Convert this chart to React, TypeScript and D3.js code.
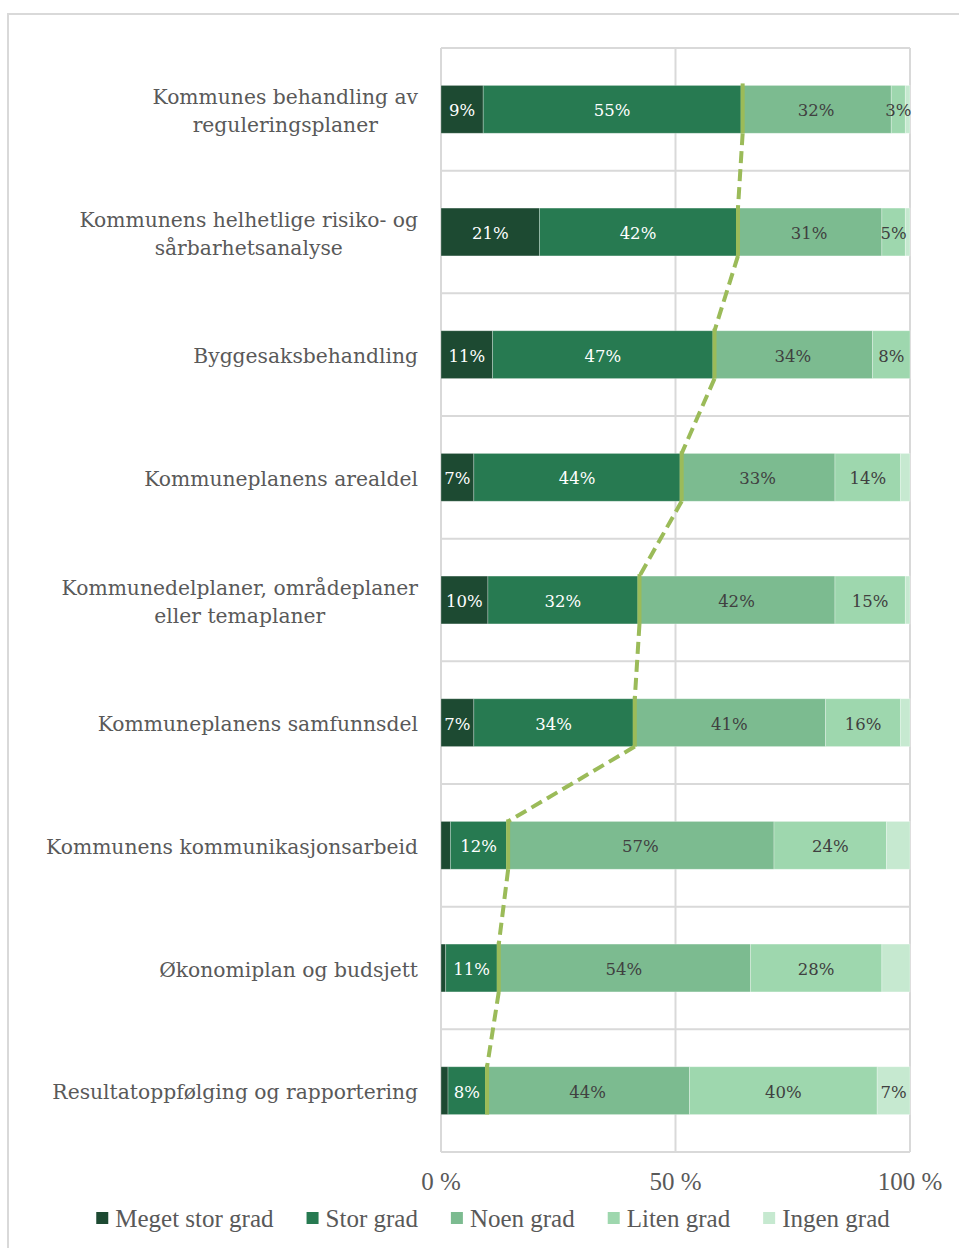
import { useMemo } from "react";
import * as d3 from "d3";

const W = 959;
const H = 1248;

// categories (one entry per line of the label)
const categories = [
  ["Kommunes behandling av", "reguleringsplaner"],
  ["Kommunens helhetlige risiko- og", "sårbarhetsanalyse"],
  ["Byggesaksbehandling"],
  ["Kommuneplanens arealdel"],
  ["Kommunedelplaner, områdeplaner", "eller temaplaner"],
  ["Kommuneplanens samfunnsdel"],
  ["Kommunens kommunikasjonsarbeid"],
  ["Økonomiplan og budsjett"],
  ["Resultatoppfølging og rapportering"],
];

const seriesNames = ["Meget stor grad", "Stor grad", "Noen grad", "Liten grad", "Ingen grad"];
const meget = [9, 21, 11, 7, 10, 7, 2, 1, 1.5];
const stor = [55, 42, 47, 44, 32, 34, 12, 11, 8];
const noen = [32, 31, 34, 33, 42, 41, 57, 54, 43.5];
const liten = [3, 5, 8, 14, 15, 16, 24, 28, 40];
const ingen = [1, 1, 0, 2, 1, 2, 5, 6, 7];

const colors = ["#1d4a32", "#277a51", "#7cbb90", "#9ed7ae", "#c6e9d0"];

// labels that were removed in the original (category index, series index)
const hiddenLabels = ["6-4", "7-4"];

const xTicks = [0, 50, 100];

const PLOT = { left: 441, right: 910, top: 48, bottom: 1152 };
const CAT_FONT = "'DejaVu Serif', serif";
const CAT_SIZE = 20.3;
const LEG_FONT = "'Liberation Serif', serif";
const LEG_SIZE = 25;

const measure = (() => {
  let ctx: CanvasRenderingContext2D | null = null;
  return (text: string, font: string) => {
    if (!ctx) ctx = document.createElement("canvas").getContext("2d");
    if (!ctx) return text.length * 10;
    ctx.font = font;
    return ctx.measureText(text).width;
  };
})();

export default function App() {
  const keys = categories.map((c) => c.join(" "));
  const values = [meget, stor, noen, liten, ingen];

  const rows = keys.map((k, i) => {
    const r: any = { key: k };
    seriesNames.forEach((s, j) => (r[s] = values[j][i]));
    return r;
  });

  const stacked = useMemo(() => d3.stack().keys(seriesNames)(rows), []);

  const xScale = d3.scaleLinear().domain([0, 100]).range([PLOT.left, PLOT.right]);
  const yScale = d3
    .scaleBand()
    .domain(keys)
    .range([PLOT.top, PLOT.bottom])
    .paddingInner(0.61)
    .paddingOuter(0.305);
  const step = yScale.step();
  const bw = yScale.bandwidth();

  // cumulative of the two top answers, for the dashed connector
  const cum = keys.map((_, i) => meget[i] + stor[i]);
  const lineX = (i: number) => xScale(cum[i]) + 1.5;
  const connectors = d3.line<[number, number]>();

  // legend positions
  const legendItems = useMemo(() => {
    const gap = 33;
    const box = 19;
    const widths = seriesNames.map((s) => measure(s, `${LEG_SIZE}px ${LEG_FONT}`));
    const total = widths.reduce((a, b) => a + b + box, 0) + gap * (widths.length - 1);
    let x = 493 - total / 2;
    return widths.map((w, i) => {
      const item = { x, name: seriesNames[i], color: colors[i] };
      x += box + w + gap;
      return item;
    });
  }, []);

  return (
    <svg width={W} height={H} style={{ position: "absolute", left: 0, top: 0 }}>
      <rect width={W} height={H} fill="#fff" />
      <rect x={8} y={14} width={980} height={1260} fill="none" stroke="#d9d9d9" strokeWidth={2} />

      {/* gridlines */}
      {d3.range(keys.length + 1).map((i) => (
        <line
          key={"h" + i}
          x1={PLOT.left}
          x2={PLOT.right}
          y1={PLOT.top + i * step}
          y2={PLOT.top + i * step}
          stroke="#d9d9d9"
          strokeWidth={2}
        />
      ))}
      {xTicks.map((t) => (
        <line
          key={"v" + t}
          x1={xScale(t)}
          x2={xScale(t)}
          y1={PLOT.top}
          y2={PLOT.bottom}
          stroke="#d9d9d9"
          strokeWidth={2}
        />
      ))}

      {/* bars */}
      {stacked.map((layer, j) => (
        <g key={layer.key}>
          {layer.map((d, i) => {
            const w = xScale(d[1]) - xScale(d[0]);
            if (w <= 0) return null;
            return (
              <rect
                key={i}
                x={xScale(d[0])}
                y={yScale(keys[i])}
                width={w}
                height={bw}
                fill={colors[j]}
                stroke="#ffffff"
                strokeOpacity={0.35}
                strokeWidth={0.8}
              />
            );
          })}
        </g>
      ))}

      {/* data labels */}
      {stacked.map((layer, j) =>
        layer.map((d, i) => {
          const v = d[1] - d[0];
          if (v < 3 || hiddenLabels.includes(`${i}-${j}`)) return null;
          return (
            <text
              key={`l${j}-${i}`}
              x={(xScale(d[0]) + xScale(d[1])) / 2}
              y={yScale(keys[i])! + bw / 2 + 1.5}
              textAnchor="middle"
              dominantBaseline="central"
              fontFamily={CAT_FONT}
              fontSize={16.5}
              fill={j < 2 ? "#ffffff" : "#404040"}
            >
              {Math.round(v)}%
            </text>
          );
        })
      )}

      {/* connector line */}
      <path
        d={
          keys
            .slice(0, -1)
            .map((k, i) =>
              connectors([
                [lineX(i), yScale(k)! + bw],
                [lineX(i + 1), yScale(keys[i + 1])!],
              ])
            )
            .join("") || ""
        }
        fill="none"
        stroke="#9bbb59"
        strokeWidth={4}
        strokeDasharray="12 6"
      />
      {keys.map((k, i) => (
        <line
          key={"s" + i}
          x1={lineX(i)}
          x2={lineX(i)}
          y1={yScale(k)! - 2}
          y2={yScale(k)! + bw}
          stroke="#9bbb59"
          strokeWidth={4}
        />
      ))}

      {/* category labels */}
      {categories.map((lines, i) => {
        const cy = yScale(keys[i])! + bw / 2 + 1.5;
        const maxW = d3.max(lines, (l) => measure(l, `${CAT_SIZE}px ${CAT_FONT}`)) || 0;
        const cx = PLOT.left - 23 - maxW / 2;
        return (
          <text
            key={"c" + i}
            textAnchor="middle"
            fontFamily={CAT_FONT}
            fontSize={CAT_SIZE}
            fill="#595959"
          >
            {lines.map((l, li) => (
              <tspan
                key={li}
                x={cx}
                y={cy + (li - (lines.length - 1) / 2) * 28}
                dominantBaseline="central"
              >
                {l}
              </tspan>
            ))}
          </text>
        );
      })}

      {/* x axis labels */}
      {xTicks.map((t) => (
        <text
          key={"t" + t}
          x={xScale(t)}
          y={1190}
          textAnchor="middle"
          fontFamily={LEG_FONT}
          fontSize={LEG_SIZE}
          fill="#595959"
        >
          {t} %
        </text>
      ))}

      {/* legend */}
      {legendItems.map((it) => (
        <g key={it.name}>
          <rect x={it.x} y={1212} width={12} height={12} fill={it.color} />
          <text
            x={it.x + 19}
            y={1227}
            fontFamily={LEG_FONT}
            fontSize={LEG_SIZE}
            fill="#595959"
          >
            {it.name}
          </text>
        </g>
      ))}
    </svg>
  );
}
